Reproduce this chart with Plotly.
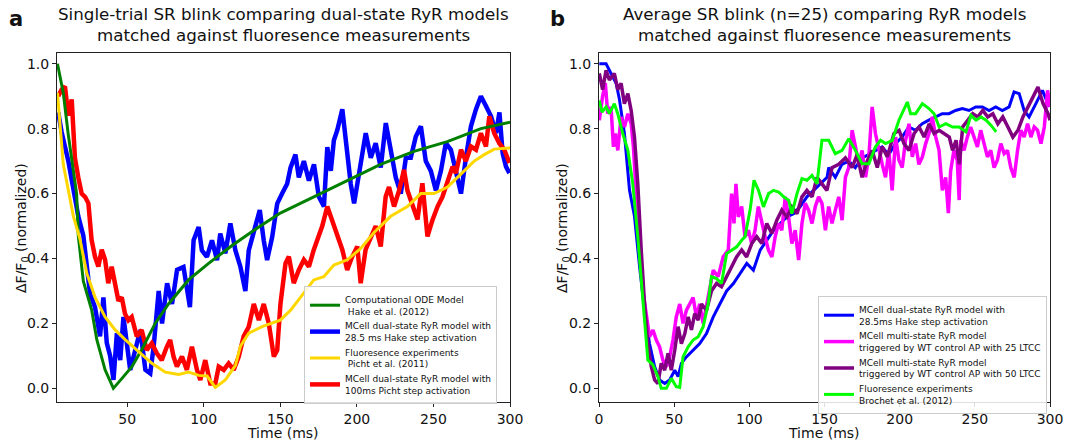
import plotly.graph_objects as go

# ---------------- Panel a data ----------------
a_ode_t = [4.5, 8.3, 11.6, 14.9, 17.0, 18.1, 21.4, 26.9, 30.2, 35.6, 41.0, 46.5, 53.1, 59.6, 68.3, 77.0,
           90.1, 103.2, 118.5, 133.8, 150.0, 171.9, 193.7, 215.5, 237.3, 259.1, 281.0, 300.0]
a_ode_v = [1.0, 0.91, 0.78, 0.66, 0.60, 0.47, 0.33, 0.24, 0.15, 0.057, 0.0, 0.03, 0.067, 0.12, 0.20, 0.26,
           0.334, 0.385, 0.44, 0.49, 0.54, 0.59, 0.64, 0.69, 0.73, 0.76, 0.80, 0.82]

a_hake_t = [5.0, 7.2, 11.6, 14.9, 18.1, 21.4, 23.6, 25.8, 29.0, 32.3, 34.5, 36.7, 38.9, 41.1, 43.3, 45.5,
            47.6, 49.8, 52.0, 55.3, 58.6, 61.9, 65.1, 67.3, 70.6, 72.8, 76.1, 79.3, 82.6,
            86.8, 89.0, 91.0, 93.4, 96.7, 98.8, 102.1, 105.4, 108.7, 110.8, 114.1, 117.4, 120.7, 124.0,
            127.2, 129.4, 132.7, 136.6, 139.2, 141.4, 144.7, 148.0, 151.2, 154.5, 156.7, 159.9, 162.1,
            165.4, 168.7, 172.0, 175.2, 178.5, 180.7, 183.0, 185.0, 187.2,
            190.5, 192.7, 196.0, 198.2, 202.5, 205.8, 209.1, 212.3, 215.6,
            218.9, 222.1, 225.4, 228.7, 232.0, 235.2, 238.5, 241.8, 245.0, 248.3, 251.6, 254.9, 258.1,
            261.4, 264.7, 268.0, 271.2, 274.5, 277.8, 281.0, 284.3, 287.6, 290.9, 293.1, 295.2, 297.4, 299.6]
a_hake_v = [0.85, 0.79, 0.70, 0.61, 0.53, 0.47, 0.385, 0.29, 0.25, 0.16, 0.28, 0.14, 0.10, 0.026, 0.17, 0.087,
            0.22, 0.14, 0.057, 0.118, 0.18, 0.057, 0.046, 0.128, 0.30, 0.20, 0.324, 0.26, 0.365,
            0.374, 0.31, 0.25, 0.456, 0.497, 0.425, 0.405, 0.456, 0.395, 0.477, 0.416, 0.508, 0.425, 0.374,
            0.30, 0.425, 0.477, 0.549, 0.456, 0.395, 0.466, 0.569, 0.60, 0.63, 0.68, 0.72, 0.65,
            0.70, 0.64, 0.69, 0.59, 0.56, 0.743, 0.67, 0.764, 0.795,
            0.86, 0.766, 0.63, 0.57, 0.70, 0.786, 0.71, 0.755, 0.68,
            0.817, 0.735, 0.65, 0.60, 0.71, 0.71, 0.776, 0.807, 0.70, 0.67, 0.61, 0.67, 0.755,
            0.735, 0.67, 0.60, 0.71, 0.807, 0.86, 0.90, 0.87, 0.838, 0.786, 0.85, 0.724, 0.683, 0.663]

a_picht_t = [4.5, 8.3, 11.6, 14.9, 19.2, 23.6, 29.1, 35.6, 42.2, 48.7, 57.5, 66.2, 74.9, 83.7, 90.2, 96.7,
             102.2, 107.6, 114.1, 120.7, 124.0, 129.4, 138.1, 146.8, 150.0, 156.6, 163.1, 171.9, 178.4,
             185.0, 193.7, 202.4, 211.2, 222.1, 233.0, 241.7, 250.4, 259.2, 267.9, 276.6, 283.2, 289.7, 299.5, 300.0]
a_picht_v = [0.91, 0.69, 0.61, 0.53, 0.46, 0.355, 0.28, 0.22, 0.18, 0.15, 0.113, 0.077, 0.05, 0.043, 0.05, 0.04,
             0.038, 0.003, 0.026, 0.07, 0.13, 0.17, 0.19, 0.205, 0.21, 0.24, 0.28, 0.334, 0.344,
             0.38, 0.396, 0.43, 0.48, 0.53, 0.56, 0.60, 0.60, 0.62, 0.66, 0.70, 0.72, 0.737, 0.74, 0.74]

a_picht100_t = [5.0, 7.2, 9.4, 11.6, 13.8, 15.9, 18.1, 20.3, 22.5, 24.7, 26.8, 29.0, 31.2, 33.4, 35.6, 37.7,
                39.9, 42.1, 44.3, 46.5, 48.6, 50.8, 53.0, 56.3, 59.5, 62.8, 66.1, 69.4, 72.6, 75.9, 78.1, 80.3,
                82.5, 85.8, 89.0, 92.3, 95.6, 97.8, 101.0, 104.3, 107.6, 109.8, 113.1, 116.3, 119.6, 122.9,
                126.1, 129.4, 132.7, 136.0, 139.2, 142.5, 145.8, 148.0, 150.1, 153.4, 155.6, 158.8, 162.1,
                165.4, 168.7, 171.9, 175.2, 177.4, 180.7, 183.9, 187.2, 190.5, 193.7, 197.0, 200.3, 202.5,
                205.7, 209.0, 212.3, 215.6, 218.8, 221.0, 224.3, 227.6, 230.8, 233.0, 236.3, 239.6, 242.8,
                246.1, 249.4, 252.7, 255.9, 259.2, 262.5, 264.7, 268.0, 271.2, 274.5, 277.8, 281.0, 284.3,
                286.5, 289.7, 293.0, 296.3, 299.6]
a_picht100_v = [0.90, 0.92, 0.93, 0.84, 0.89, 0.71, 0.65, 0.60, 0.59, 0.57, 0.457, 0.406, 0.375, 0.427, 0.396, 0.324,
                0.375, 0.324, 0.27, 0.28, 0.23, 0.21, 0.22, 0.16, 0.18, 0.118, 0.139, 0.108, 0.087, 0.128, 0.149, 0.098,
                0.067, 0.098, 0.057, 0.128, 0.057, 0.026, 0.087, 0.015, 0.015, 0.067, 0.057, 0.077, 0.057, 0.098,
                0.16, 0.19, 0.26, 0.21, 0.26, 0.20, 0.098, 0.118, 0.26, 0.385, 0.406, 0.324, 0.365,
                0.396, 0.375, 0.427, 0.468, 0.50, 0.56, 0.519, 0.468, 0.427, 0.365, 0.406, 0.437, 0.324,
                0.427, 0.468, 0.50, 0.437, 0.59, 0.62, 0.56, 0.61, 0.673, 0.61, 0.56, 0.52, 0.632,
                0.468, 0.519, 0.56, 0.59, 0.632, 0.683, 0.663, 0.735, 0.70, 0.745, 0.735, 0.786, 0.745,
                0.838, 0.786, 0.755, 0.735, 0.694]

# ---------------- Panel b data ----------------
b_hake_t = [0.2, 4.7, 8.0, 11.4, 13.6, 16.9, 20.3, 23.6, 27.0, 30.3, 33.6, 37.0, 40.3, 43.7, 47.0, 50.4, 52.6,
            54.8, 58.1, 62.6, 67.0, 71.5, 76.0, 80.4, 84.9, 89.4, 93.8, 98.3, 102.7, 107.2, 111.6, 116.1,
            120.5, 125.0, 129.4, 133.9, 138.3, 142.8, 147.2, 151.7, 152.8, 157.2, 161.6, 166.1, 170.5,
            175.0, 179.4, 183.8, 188.3, 192.7, 197.2, 201.6, 206.1, 210.5, 215.0, 219.4, 223.9, 228.3,
            232.8, 237.2, 241.7, 246.1, 250.6, 255.0, 259.5, 263.9, 268.3, 272.8, 276.1, 279.5, 282.8,
            286.1, 290.6, 295.0, 299.5]
b_hake_v = [1.0, 1.0, 0.97, 0.94, 0.89, 0.785, 0.61, 0.53, 0.374, 0.24, 0.138, 0.067, 0.026, 0.015, 0.026, 0.056, 0.036,
            0.077, 0.097, 0.118, 0.138, 0.169, 0.22, 0.26, 0.30, 0.323, 0.354, 0.385, 0.364, 0.426, 0.456, 0.487,
            0.508, 0.528, 0.538, 0.56, 0.59, 0.61, 0.63, 0.65, 0.68, 0.65, 0.69, 0.70, 0.68,
            0.71, 0.72, 0.733, 0.744, 0.72, 0.754, 0.774, 0.805, 0.795, 0.815, 0.826, 0.836, 0.846,
            0.846, 0.856, 0.862, 0.856, 0.867, 0.867, 0.856, 0.867, 0.856, 0.867, 0.913, 0.908, 0.856,
            0.836, 0.877, 0.918, 0.867]

b_ltcc25_t = [0.2, 2.4, 4.2, 5.8, 8.0, 9.6, 10.9, 12.5, 14.7, 16.9, 19.2, 21.4, 22.9, 24.7, 26.9, 29.2, 31.4,
              33.6, 35.9, 38.1, 40.3, 42.5, 44.8, 47.0, 49.2, 51.4, 53.7, 55.9, 58.1, 60.4, 62.6, 64.8, 67.0,
              69.3, 72.6, 76.0, 79.3, 82.6, 86.0, 88.2, 89.8, 91.1, 92.7, 94.9, 97.1, 99.4, 101.6, 103.8,
              106.0, 108.3, 110.5, 112.7, 115.0, 117.2, 119.4, 121.6, 123.9, 126.1, 128.3, 130.5, 132.8,
              135.0, 137.2, 139.4, 141.7, 143.9, 146.1, 148.3, 150.6, 152.8, 155.0, 157.2, 159.5, 161.7,
              163.9, 166.1, 168.4, 170.6, 172.8, 175.0, 177.3, 179.5, 181.7, 183.9, 186.2, 188.4, 190.6,
              192.8, 195.0, 197.3, 199.5, 201.7, 203.9, 206.2, 208.4, 210.6, 212.8, 215.1, 217.3, 219.5,
              221.7, 224.0, 226.2, 228.4, 230.6, 232.4, 233.9, 236.1, 238.3, 239.6, 240.6, 242.8, 245.0,
              247.2, 249.5, 251.7, 253.9, 256.1, 258.4, 260.6, 262.8, 265.0, 267.3, 269.5, 271.7, 273.9,
              276.2, 278.4, 280.6, 282.8, 285.1, 287.3, 289.5, 291.7, 294.0, 296.2, 298.4, 300.0]
b_ltcc25_v = [0.826, 0.90, 0.94, 0.846, 0.867, 0.744, 0.785, 0.733, 0.836, 0.805, 0.846, 0.815, 0.744, 0.61, 0.426, 0.30, 0.22,
              0.159, 0.18, 0.149, 0.128, 0.087, 0.067, 0.097, 0.149, 0.22, 0.26, 0.20, 0.24, 0.26, 0.28, 0.22, 0.26,
              0.20, 0.28, 0.364, 0.344, 0.405, 0.426, 0.60, 0.508, 0.63, 0.528, 0.56, 0.467, 0.487, 0.446, 0.487,
              0.56, 0.508, 0.467, 0.426, 0.405, 0.467, 0.508, 0.487, 0.59, 0.528, 0.446, 0.487, 0.395,
              0.508, 0.57, 0.549, 0.508, 0.56, 0.59, 0.57, 0.487, 0.56, 0.508, 0.549, 0.59, 0.518,
              0.65, 0.68, 0.795, 0.744, 0.69, 0.733, 0.65, 0.713, 0.867, 0.785, 0.733, 0.69, 0.65,
              0.733, 0.61, 0.774, 0.703, 0.68, 0.764, 0.815, 0.713, 0.754, 0.69, 0.713, 0.754, 0.785,
              0.836, 0.774, 0.733, 0.61, 0.65, 0.54, 0.67, 0.733, 0.703, 0.58, 0.764, 0.733, 0.774,
              0.805, 0.774, 0.744, 0.795, 0.754, 0.713, 0.733, 0.68, 0.703, 0.754, 0.723, 0.733, 0.68,
              0.65, 0.733, 0.795, 0.774, 0.815, 0.774, 0.805, 0.795, 0.754, 0.805, 0.918, 0.867]

b_ltcc50_t = [0.2, 2.4, 4.7, 6.9, 10.2, 12.5, 14.7, 16.9, 19.2, 21.4, 23.6, 25.8, 28.1, 30.3, 32.5, 34.8, 37.0,
              39.2, 41.4, 43.7, 45.9, 48.1, 50.4, 52.6, 54.8, 57.1, 59.3, 61.5, 63.7, 66.0, 68.2, 71.5, 74.8,
              78.2, 81.5, 84.9, 88.2, 91.5, 94.9, 98.2, 101.6, 104.9, 108.3, 111.6, 115.0, 118.3, 121.6,
              125.0, 128.3, 131.7, 135.0, 138.3, 141.7, 145.0, 148.3, 151.6, 155.0, 159.5, 163.9, 168.4,
              171.7, 175.0, 178.4, 181.7, 185.1, 188.4, 191.8, 196.2, 199.6, 202.9, 206.2, 209.6, 212.9,
              216.3, 219.6, 222.9, 226.3, 229.6, 233.0, 235.2, 237.5, 239.7, 241.9, 245.3, 248.6, 251.9,
              255.3, 258.6, 262.0, 265.3, 268.6, 272.0, 275.3, 278.7, 282.0, 285.4, 288.7, 292.0, 295.4,
              298.7, 300.0]
b_ltcc50_v = [0.97, 0.92, 0.98, 0.95, 0.97, 0.92, 0.94, 0.877, 0.908, 0.856, 0.774, 0.63, 0.426, 0.26, 0.138, 0.067, 0.026,
              0.015, 0.077, 0.056, 0.108, 0.056, 0.118, 0.19, 0.138, 0.169, 0.22, 0.18, 0.23, 0.21, 0.26, 0.24, 0.30,
              0.323, 0.313, 0.344, 0.374, 0.405, 0.426, 0.405, 0.446, 0.467, 0.446, 0.508, 0.477, 0.518, 0.549,
              0.528, 0.559, 0.538, 0.59, 0.61, 0.59, 0.65, 0.63, 0.61, 0.68, 0.69, 0.71, 0.68,
              0.72, 0.65, 0.70, 0.733, 0.68, 0.744, 0.713, 0.785, 0.795, 0.754, 0.733, 0.785, 0.805,
              0.774, 0.815, 0.785, 0.795, 0.785, 0.774, 0.733, 0.764, 0.69, 0.805, 0.826, 0.846, 0.836,
              0.856, 0.836, 0.846, 0.815, 0.836, 0.805, 0.774, 0.795, 0.836, 0.867, 0.897, 0.928, 0.877,
              0.846, 0.826]

b_brochet_t = [0.2, 2.0, 4.7, 6.9, 10.2, 12.5, 15.8, 19.2, 22.5, 25.8, 29.2, 32.5, 35.9, 39.2, 41.4, 44.8, 48.1,
               51.4, 53.7, 55.9, 59.3, 62.6, 66.0, 69.3, 72.6, 74.8, 78.2, 81.5, 84.9, 88.2, 91.6, 94.9, 97.1,
               100.5, 103.1, 106.1, 109.4, 112.8, 116.1, 119.5, 122.8, 126.2, 128.3, 131.7, 135.0, 138.3,
               141.7, 145.0, 146.1, 148.3, 152.8, 157.2, 161.7, 166.1, 170.6, 175.0, 179.5, 183.9, 187.3,
               190.6, 195.1, 199.5, 205.1, 207.3, 210.6, 215.1, 219.5, 222.9, 226.3, 230.7, 235.2, 239.6,
               244.1, 247.4, 250.8, 254.1, 257.5, 260.8, 264.2]
b_brochet_v = [0.887, 0.851, 0.867, 0.846, 0.877, 0.846, 0.785, 0.733, 0.63, 0.467, 0.272, 0.087, 0.072, 0.036, 0.0, 0.0, 0.031,
               0.005, 0.003, 0.097, 0.128, 0.149, 0.159, 0.19, 0.26, 0.344, 0.338, 0.323, 0.415, 0.426, 0.436, 0.456, 0.467,
               0.549, 0.641, 0.61, 0.559, 0.60, 0.61, 0.605, 0.59, 0.579, 0.538, 0.60, 0.646, 0.641,
               0.656, 0.63, 0.682, 0.764, 0.764, 0.723, 0.733, 0.769, 0.733, 0.692, 0.692, 0.744, 0.764,
               0.754, 0.764, 0.826, 0.882, 0.846, 0.846, 0.877, 0.862, 0.846, 0.805, 0.815, 0.805, 0.805,
               0.79, 0.841, 0.826, 0.836, 0.826, 0.81, 0.79]

yticks = [0.0, 0.2, 0.4, 0.6, 0.8, 1.0]
xticks_a = [50, 100, 150, 200, 250, 300]
xticks_b = [0, 50, 100, 150, 200, 250, 300]

# ---------------- Figure ----------------
fig = go.Figure()

def add(x, y, name, color, width, xa, ya, legend, rank):
    fig.add_trace(go.Scatter(x=x, y=y, name=name, mode="lines",
                             line=dict(color=color, width=width),
                             xaxis=xa, yaxis=ya, legend=legend, legendrank=rank))

add(a_hake_t, a_hake_v, "MCell dual-state RyR model with<br>28.5 ms Hake step activation", "#0000ff", 4.5, "x", "y", "legend", 2)
add(a_picht100_t, a_picht100_v, "MCell dual-state RyR model with<br>100ms Picht step activation", "#ff0000", 4.5, "x", "y", "legend", 4)
add(a_ode_t, a_ode_v, "Computational ODE Model<br> Hake et al. (2012)", "#008000", 3, "x", "y", "legend", 1)
add(a_picht_t, a_picht_v, "Fluoresence experiments<br> Picht et al. (2011)", "#ffd700", 3, "x", "y", "legend", 3)

add(b_hake_t, b_hake_v, "MCell dual-state RyR model with<br>28.5ms Hake step activation", "#0000ff", 3, "x2", "y2", "legend2", 1)
add(b_ltcc25_t, b_ltcc25_v, "MCell multi-state RyR model<br>triggered by WT control AP with 25 LTCC", "#ff00ff", 3.5, "x2", "y2", "legend2", 2)
add(b_ltcc50_t, b_ltcc50_v, "MCell multi-state RyR model<br>triggered by WT control AP with 50 LTCC", "#800080", 3.5, "x2", "y2", "legend2", 3)
add(b_brochet_t, b_brochet_v, "Fluoresence experiments<br>Brochet et al. (2012)", "#00ff00", 3, "x2", "y2", "legend2", 4)

W, H = 1065, 443
def px(x):
    return x / W
def py(y):
    return 1 - y / H

axis_common = dict(showline=True, mirror=True, linecolor="#222", linewidth=1,
                   ticks="outside", ticklen=4, tickwidth=1, tickcolor="#222",
                   showgrid=False, zeroline=False, automargin=False,
                   tickfont=dict(family="DejaVu Sans", size=14, color="#111"))

legend_common = dict(xanchor="left", yanchor="top",
                     bgcolor="rgba(255,255,255,0.85)", bordercolor="#cccccc", borderwidth=1,
                     font=dict(family="DejaVu Sans", size=9, color="#111"), itemwidth=30, tracegroupgap=2)

fig.update_layout(
    width=W, height=H,
    margin=dict(l=0, r=0, t=0, b=0, autoexpand=False),
    paper_bgcolor="white", plot_bgcolor="white",
    font=dict(family="DejaVu Sans", color="#111"),
    xaxis=dict(domain=[px(57), px(510)], range=[4.2, 300], tickvals=xticks_a, anchor="y", **axis_common),
    yaxis=dict(domain=[py(402), py(53)], range=[-0.042, 1.033], tickvals=yticks, tickformat=".1f", anchor="x", **axis_common),
    xaxis2=dict(domain=[px(599), px(1050)], range=[0, 300], tickvals=xticks_b, anchor="y2", **axis_common),
    yaxis2=dict(domain=[py(402), py(53)], range=[-0.042, 1.033], tickvals=yticks, tickformat=".1f", anchor="x2", **axis_common),
    legend=dict(x=px(304), y=py(286), **legend_common),
    legend2=dict(x=px(818), y=py(296), **legend_common),
    showlegend=True,
)

def note(text, x, y, size, angle=0):
    return dict(text=text, x=px(x), y=py(y), xref="paper", yref="paper", showarrow=False,
                xanchor="center", yanchor="middle", textangle=angle,
                font=dict(size=size, family="DejaVu Sans", color="#111"))

ann = [
    note("Single-trial SR blink comparing dual-state RyR models", 283, 14, 16.7),
    note("matched against fluoresence measurements", 283, 35, 16.7),
    note("Average SR blink (n=25) comparing RyR models", 824, 14, 16.7),
    note("matched against fluoresence measurements", 824, 35, 16.7),
    note("<b>a</b>", 16, 19, 21),
    note("<b>b</b>", 557, 19, 21),
    note("Time (ms)", 283, 433, 14),
    note("Time (ms)", 824, 433, 14),
    note("ΔF/F<sub>0</sub> (normalized)", 22, 228, 14, -90),
    note("ΔF/F<sub>0</sub> (normalized)", 563, 228, 14, -90),
]
fig.update_layout(annotations=ann)

# remove the browser's default 8px body margin so the figure fills the window exactly
fig.write_html("out.html", config={"displayModeBar": False},
               post_script="document.body.style.margin='0px';")
